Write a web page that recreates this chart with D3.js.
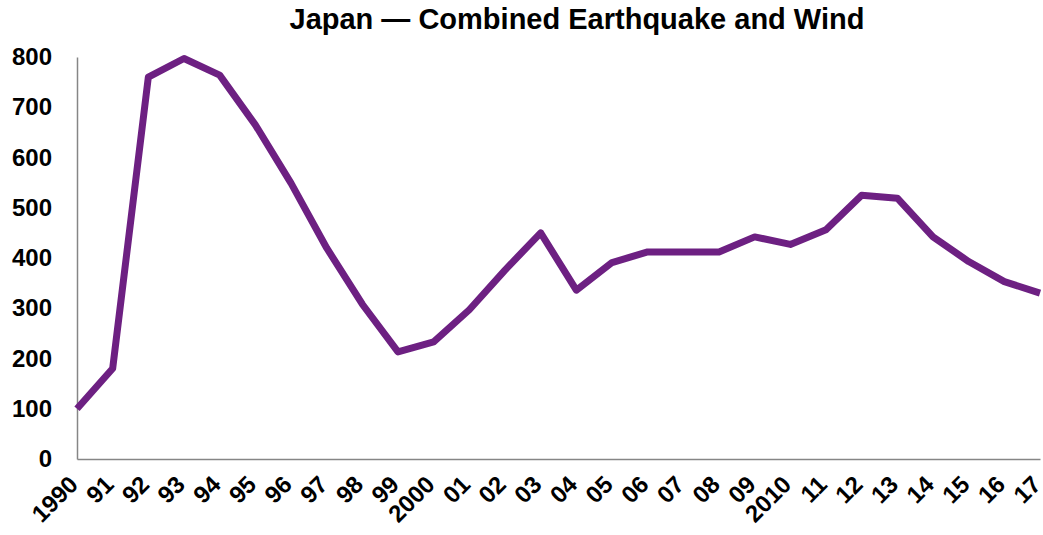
<!DOCTYPE html>
<html>
<head>
<meta charset="utf-8">
<script src="https://cdn.jsdelivr.net/npm/d3@7"></script>
<style>
  body { margin: 0; background: #fff; }
  text { font-family: "Liberation Sans", Arial, sans-serif; font-weight: bold; fill: #000; }
</style>
</head>
<body>
<svg width="1043" height="535"></svg>
<script>
var years = [1990, 1991, 1992, 1993, 1994, 1995, 1996, 1997, 1998, 1999,
  2000, 2001, 2002, 2003, 2004, 2005, 2006, 2007, 2008, 2009,
  2010, 2011, 2012, 2013, 2014, 2015, 2016, 2017];
var yearLabels = ["1990", "91", "92", "93", "94", "95", "96", "97", "98", "99",
  "2000", "01", "02", "03", "04", "05", "06", "07", "08", "09",
  "2010", "11", "12", "13", "14", "15", "16", "17"];
var values = [100, 180, 760, 797, 764, 665, 549, 420, 308, 213,
  233, 297, 376, 450, 336, 391, 412, 412, 412, 442,
  427, 456, 525, 519, 442, 393, 353, 330];
var yTicks = [0, 100, 200, 300, 400, 500, 600, 700, 800];

var svg = d3.select("svg"),
  plotLeft = 77, plotRight = 1040, plotTop = 57, plotBottom = 459;

var x = d3.scaleLinear().domain([1990, 2017]).range([plotLeft, plotRight]);
var y = d3.scaleLinear().domain([0, 800]).range([plotBottom, plotTop]);

svg.append("text")
  .attr("x", 577)
  .attr("y", 29)
  .attr("text-anchor", "middle")
  .style("font-size", "29px")
  .text("Japan \u2014 Combined Earthquake and Wind");

// y axis
var yAxis = svg.append("g")
  .attr("transform", "translate(" + plotLeft + ",0)")
  .call(d3.axisLeft(y).tickValues(yTicks).tickSize(0).tickPadding(25));
yAxis.select(".domain").attr("stroke", "#868686").attr("stroke-width", 1.5);
yAxis.selectAll("text").style("font-size", "24px");

// x axis
var xAxis = svg.append("g")
  .attr("transform", "translate(0," + plotBottom + ")")
  .call(d3.axisBottom(x).tickValues(years).tickSize(0)
    .tickFormat(function (d, i) { return yearLabels[i]; }));
xAxis.select(".domain").attr("stroke", "#868686").attr("stroke-width", 1.5);
xAxis.selectAll("text")
  .style("font-size", "24px")
  .attr("text-anchor", "end")
  .attr("dy", "0.35em")
  .attr("y", 0)
  .attr("transform", "translate(-4,21) rotate(-45)");

var line = d3.line()
  .x(function (d, i) { return x(years[i]); })
  .y(function (d) { return y(d); });

svg.append("path")
  .datum(values)
  .attr("fill", "none")
  .attr("stroke", "#6d2082")
  .attr("stroke-width", 7)
  .attr("stroke-linejoin", "round")
  .attr("d", line);
</script>
</body>
</html>
